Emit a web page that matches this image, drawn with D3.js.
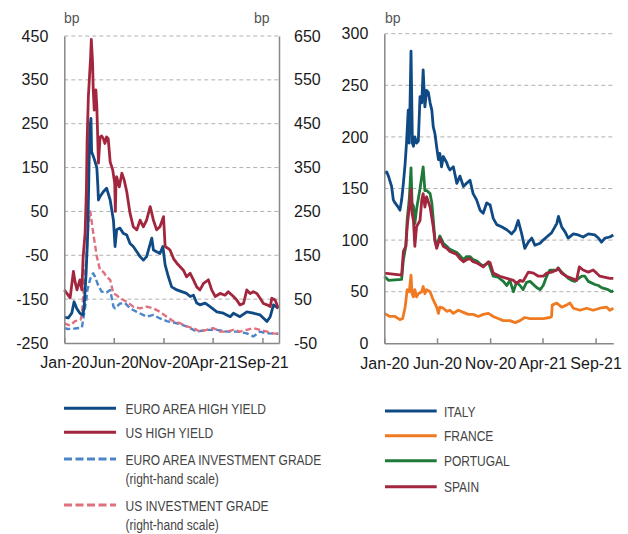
<!DOCTYPE html>
<html>
<head>
<meta charset="utf-8">
<script src="https://cdn.jsdelivr.net/npm/d3@7"></script>
<style>
  body { margin: 0; background: #fff; }
  svg text { font-family: "Liberation Sans", Arial, Helvetica, sans-serif; }
</style>
</head>
<body>
<div id="chart"></div>
<script>
// ---- data (bp) ----
var xTickDates = ["2020-01-01", "2020-06-01", "2020-11-01", "2021-04-01", "2021-09-01"];
var xTickLabels = ["Jan-20", "Jun-20", "Nov-20", "Apr-21", "Sep-21"];
var leftTicks = [-250, -150, -50, 50, 150, 250, 350, 450];
var rightTicks = [-50, 50, 150, 250, 350, 450, 550, 650];
var countryTicks = [0, 50, 100, 150, 200, 250, 300];

// left-hand scale
var euroHY = [["2020-01-01",-191],["2020-01-13",-193],["2020-01-24",-182],["2020-01-31",-156],["2020-02-08",-171],["2020-02-18",-182],["2020-02-27",-186],["2020-03-02",-167],["2020-03-08",-91],["2020-03-13",0],["2020-03-16",110],["2020-03-19",236],["2020-03-23",262],["2020-03-25",186],["2020-03-30",176],["2020-04-04",165],["2020-04-10",150],["2020-04-13",110],["2020-04-15",76],["2020-04-20",84],["2020-04-30",95],["2020-05-10",103],["2020-05-21",76],["2020-05-31",30],["2020-06-05",-30],["2020-06-10",8],["2020-06-20",12],["2020-06-30",0],["2020-07-11",-4],["2020-07-21",-23],["2020-07-31",-30],["2020-08-11",-42],["2020-08-21",-53],["2020-08-31",-61],["2020-09-10",-53],["2020-09-26",-11],["2020-10-01",-38],["2020-10-11",-42],["2020-10-21",-46],["2020-10-30",-30],["2020-11-06",-72],["2020-11-16",-99],["2020-11-26",-122],["2020-12-12",-129],["2020-12-27",-133],["2021-01-11",-137],["2021-01-22",-144],["2021-02-01",-141],["2021-02-11",-159],["2021-02-21",-163],["2021-03-09",-159],["2021-03-24",-167],["2021-04-14",-179],["2021-05-04",-182],["2021-05-25",-190],["2021-06-04",-182],["2021-06-24",-190],["2021-07-15",-179],["2021-08-04",-182],["2021-08-25",-186],["2021-09-15",-201],["2021-09-25",-190],["2021-10-05",-163],["2021-10-20",-171]];
var usHY = [["2020-01-01",-129],["2020-01-19",-147],["2020-01-29",-87],["2020-02-03",-110],["2020-02-09",-129],["2020-02-18",-106],["2020-02-24",-129],["2020-02-28",-53],["2020-03-05",1],["2020-03-09",100],["2020-03-11",206],["2020-03-15",312],["2020-03-22",403],["2020-03-24",442],["2020-03-28",388],["2020-03-30",327],["2020-04-02",281],["2020-04-07",327],["2020-04-10",289],["2020-04-15",160],["2020-04-20",220],["2020-04-25",222],["2020-04-30",216],["2020-05-05",205],["2020-05-10",220],["2020-05-15",216],["2020-05-21",163],["2020-05-29",144],["2020-06-04",114],["2020-06-06",50],["2020-06-08",120],["2020-06-10",129],["2020-06-18",106],["2020-06-26",137],["2020-07-03",122],["2020-07-11",95],["2020-07-21",46],["2020-07-31",15],["2020-08-11",8],["2020-08-21",30],["2020-08-31",15],["2020-09-10",30],["2020-09-21",61],["2020-10-01",30],["2020-10-11",8],["2020-10-21",15],["2020-11-01",38],["2020-11-06",-30],["2020-11-16",-35],["2020-11-21",-38],["2020-12-02",-58],["2020-12-12",-68],["2020-12-22",-76],["2021-01-01",-84],["2021-01-11",-99],["2021-01-22",-91],["2021-02-01",-106],["2021-02-11",-122],["2021-02-21",-129],["2021-03-04",-114],["2021-03-19",-106],["2021-03-29",-129],["2021-04-09",-144],["2021-04-24",-137],["2021-05-09",-141],["2021-05-19",-133],["2021-06-04",-144],["2021-06-14",-152],["2021-06-24",-163],["2021-07-05",-160],["2021-07-15",-129],["2021-07-25",-137],["2021-08-04",-133],["2021-08-15",-137],["2021-08-25",-148],["2021-09-04",-160],["2021-09-15",-163],["2021-09-25",-167],["2021-09-30",-148],["2021-10-10",-152],["2021-10-20",-171]];
// right-hand scale
var euroIG = [["2020-01-01",-16],["2020-01-12",-18],["2020-02-03",-17],["2020-02-24",-15],["2020-02-28",3],["2020-03-10",56],["2020-03-12",71],["2020-03-20",94],["2020-03-25",105],["2020-03-30",109],["2020-04-04",102],["2020-04-15",80],["2020-04-25",67],["2020-05-10",65],["2020-05-21",71],["2020-05-31",33],["2020-06-05",29],["2020-06-20",40],["2020-07-06",41],["2020-07-21",29],["2020-08-11",21],["2020-09-10",10],["2020-10-01",14],["2020-10-21",6],["2020-11-11",0],["2020-12-12",-5],["2021-01-11",-12],["2021-02-11",-24],["2021-03-14",-20],["2021-04-14",-20],["2021-05-15",-24],["2021-06-14",-24],["2021-07-15",-28],["2021-08-04",-35],["2021-08-25",-24],["2021-09-15",-28],["2021-10-20",-29]];
var usIG = [["2020-01-01",-5],["2020-01-19",-10],["2020-02-03",0],["2020-02-20",3],["2020-02-24",15],["2020-03-05",116],["2020-03-08",132],["2020-03-15",223],["2020-03-21",250],["2020-03-30",200],["2020-04-10",147],["2020-04-20",116],["2020-04-30",112],["2020-05-10",101],["2020-05-21",94],["2020-05-31",63],["2020-06-10",59],["2020-06-20",52],["2020-07-11",44],["2020-07-31",33],["2020-08-21",29],["2020-09-10",33],["2020-10-01",29],["2020-10-21",21],["2020-11-11",10],["2020-12-02",-1],["2020-12-22",-5],["2021-01-11",-12],["2021-02-01",-16],["2021-02-21",-24],["2021-03-14",-20],["2021-04-03",-16],["2021-04-24",-24],["2021-05-15",-24],["2021-06-04",-20],["2021-06-24",-24],["2021-07-15",-20],["2021-08-04",-16],["2021-08-25",-20],["2021-09-15",-24],["2021-10-05",-28],["2021-10-20",-29]];

// sovereign spreads (right panel)
var italy = [["2020-01-01",165],["2020-01-08",166],["2020-01-13",162],["2020-01-22",152],["2020-01-27",139],["2020-02-01",136],["2020-02-10",132],["2020-02-15",129],["2020-02-20",139],["2020-02-25",155],["2020-03-01",174],["2020-03-05",194],["2020-03-10",226],["2020-03-13",194],["2020-03-18",283],["2020-03-22",194],["2020-03-25",191],["2020-03-29",200],["2020-04-03",194],["2020-04-08",196],["2020-04-13",239],["2020-04-18",233],["2020-04-22",265],["2020-04-27",229],["2020-05-02",245],["2020-05-07",243],["2020-05-12",233],["2020-05-17",226],["2020-05-21",210],["2020-05-26",203],["2020-05-31",190],["2020-06-05",178],["2020-06-09",184],["2020-06-14",171],["2020-06-19",181],["2020-06-29",175],["2020-07-03",171],["2020-07-08",168],["2020-07-18",171],["2020-07-28",155],["2020-08-06",162],["2020-08-16",152],["2020-08-25",155],["2020-09-04",158],["2020-09-13",145],["2020-09-23",139],["2020-10-03",129],["2020-10-12",126],["2020-10-22",136],["2020-11-01",134],["2020-11-10",121],["2020-11-20",115],["2020-12-04",113],["2020-12-19",110],["2021-01-02",106],["2021-01-12",110],["2021-01-21",119],["2021-01-31",106],["2021-02-09",92],["2021-02-19",98],["2021-03-01",102],["2021-03-10",95],["2021-03-25",97],["2021-04-03",100],["2021-04-13",103],["2021-04-27",107],["2021-05-12",116],["2021-05-17",123],["2021-05-26",113],["2021-06-05",108],["2021-06-14",102],["2021-06-29",106],["2021-07-13",105],["2021-07-27",103],["2021-08-11",106],["2021-08-30",105],["2021-09-09",102],["2021-09-18",98],["2021-09-28",102],["2021-10-12",103],["2021-10-22",105]];
var france = [["2020-01-01",29],["2020-01-17",26],["2020-02-01",26],["2020-02-15",23],["2020-02-23",24],["2020-03-01",35],["2020-03-07",52],["2020-03-13",50],["2020-03-18",66],["2020-03-21",48],["2020-03-25",45],["2020-03-29",52],["2020-04-03",45],["2020-04-08",48],["2020-04-18",50],["2020-04-22",55],["2020-04-27",48],["2020-05-02",52],["2020-05-12",50],["2020-05-21",42],["2020-05-31",35],["2020-06-05",29],["2020-06-09",35],["2020-06-19",34],["2020-06-29",31],["2020-07-08",32],["2020-07-18",29],["2020-08-01",32],["2020-08-16",30],["2020-08-30",28],["2020-09-13",28],["2020-09-28",26],["2020-10-12",28],["2020-10-27",29],["2020-11-10",26],["2020-11-24",24],["2020-12-09",22],["2020-12-28",22],["2021-01-12",20],["2021-01-26",22],["2021-02-09",25],["2021-02-24",24],["2021-03-15",24],["2021-04-03",24],["2021-04-22",25],["2021-04-27",26],["2021-04-29",37],["2021-05-12",39],["2021-05-26",35],["2021-06-09",37],["2021-06-19",39],["2021-06-29",34],["2021-07-18",32],["2021-08-06",34],["2021-08-25",32],["2021-09-13",34],["2021-10-03",35],["2021-10-12",32],["2021-10-22",34]];
var portugal = [["2020-01-01",65],["2020-01-13",61],["2020-02-20",62],["2020-02-25",81],["2020-03-03",94],["2020-03-07",120],["2020-03-13",140],["2020-03-18",170],["2020-03-21",136],["2020-03-25",133],["2020-03-29",116],["2020-04-03",130],["2020-04-13",150],["2020-04-22",171],["2020-04-27",148],["2020-05-02",148],["2020-05-12",145],["2020-05-17",136],["2020-05-21",120],["2020-05-26",100],["2020-05-31",94],["2020-06-09",104],["2020-06-19",97],["2020-06-29",94],["2020-07-08",91],["2020-07-28",88],["2020-08-06",85],["2020-08-16",81],["2020-08-25",84],["2020-09-04",84],["2020-09-13",81],["2020-09-23",80],["2020-10-03",77],["2020-10-12",75],["2020-10-27",78],["2020-11-01",74],["2020-11-10",65],["2020-11-24",64],["2020-12-09",60],["2020-12-19",56],["2020-12-28",61],["2021-01-07",50],["2021-01-16",59],["2021-01-26",56],["2021-02-04",52],["2021-02-14",59],["2021-02-24",60],["2021-03-15",54],["2021-03-25",52],["2021-04-03",56],["2021-04-13",65],["2021-04-22",71],["2021-05-12",71],["2021-05-16",73],["2021-05-26",69],["2021-06-05",66],["2021-06-14",63],["2021-06-24",61],["2021-07-03",60],["2021-07-23",65],["2021-08-01",65],["2021-08-11",60],["2021-08-30",57],["2021-09-09",56],["2021-09-18",54],["2021-10-07",52],["2021-10-17",50],["2021-10-22",51]];
var spain = [["2020-01-01",68],["2020-02-20",66],["2020-02-25",89],["2020-03-03",94],["2020-03-07",113],["2020-03-13",132],["2020-03-18",149],["2020-03-21",126],["2020-03-25",119],["2020-03-29",94],["2020-04-03",113],["2020-04-13",119],["2020-04-18",139],["2020-04-22",145],["2020-04-27",132],["2020-05-02",142],["2020-05-12",132],["2020-05-21",113],["2020-05-26",99],["2020-05-31",92],["2020-06-09",102],["2020-06-19",94],["2020-06-29",92],["2020-07-08",89],["2020-07-28",86],["2020-08-06",82],["2020-08-16",79],["2020-08-25",81],["2020-09-04",82],["2020-09-13",79],["2020-09-23",78],["2020-10-03",76],["2020-10-12",74],["2020-10-27",79],["2020-11-01",78],["2020-11-10",68],["2020-11-29",65],["2020-12-19",63],["2021-01-07",61],["2021-01-16",58],["2021-01-26",61],["2021-02-04",60],["2021-02-19",69],["2021-03-06",68],["2021-03-20",65],["2021-04-03",65],["2021-04-13",68],["2021-04-27",69],["2021-05-12",71],["2021-05-16",73],["2021-05-26",68],["2021-06-09",65],["2021-06-24",63],["2021-07-08",61],["2021-07-16",74],["2021-07-27",71],["2021-08-11",69],["2021-08-25",71],["2021-09-04",68],["2021-09-13",65],["2021-10-12",63],["2021-10-22",63]];

var leftLegend = [["EURO AREA HIGH YIELD"], ["US HIGH YIELD"], ["EURO AREA INVESTMENT GRADE", "(right-hand scale)"], ["US INVESTMENT GRADE", "(right-hand scale)"]];
var rightLegend = ["ITALY", "FRANCE", "PORTUGAL", "SPAIN"];

// ---- styling ----
var navy = "#0f4a84", crimson = "#a3263f", lightBlue = "#4a86c8", pink = "#e0707e";
var orange = "#f07a22", green = "#1f7a3a";
var gridColor = "#b0b0b0", axisColor = "#888";

var parse = d3.timeParse("%Y-%m-%d");
var xDomain = [parse("2020-01-01"), parse("2021-10-22")];
var tickDates = xTickDates.map(parse);
var plainNum = function (d) { return String(d); };   // keep ASCII hyphen for negatives

var svg = d3.select("#chart").append("svg").attr("width", 628).attr("height", 534);

// helper: dashed gridlines
function grid(y, ticks, x0, x1) {
    svg.append("g").selectAll("line")
        .data(ticks.slice(1))
        .enter()
        .append("line")
        .attr("x1", x0).attr("x2", x1)
        .attr("y1", function (d) { return y(d); })
        .attr("y2", function (d) { return y(d); })
        .attr("stroke", gridColor)
        .attr("stroke-width", 1)
        .attr("stroke-dasharray", "4,3");
}

function styleAxis(g) {
    g.select(".domain").attr("stroke", axisColor).attr("stroke-width", 1.5);
    g.selectAll(".tick line").attr("stroke", axisColor).attr("stroke-width", 1.5);
    g.selectAll("text").attr("fill", "#1a1a1a").style("font-size", "16px");
}

function drawLine(series, x, y, color, dashed) {
    var line = d3.line()
        .x(function (d) { return x(parse(d[0])); })
        .y(function (d) { return y(d[1]); });
    svg.append("path")
        .datum(series)
        .attr("fill", "none")
        .attr("stroke", color)
        .attr("stroke-width", dashed ? 2.4 : 2.8)
        .attr("stroke-linejoin", "round")
        .attr("stroke-dasharray", dashed ? "6,3" : null)
        .attr("d", line);
}

// ---- left panel: corporate spreads ----
var xL = d3.scaleTime().domain(xDomain).range([64.3, 279]);
var yL = d3.scaleLinear().domain([-250, 450]).range([343, 36]);
var yR = d3.scaleLinear().domain([-50, 650]).range([343, 36]);

grid(yL, leftTicks, 64.3, 279);

drawLine(euroIG, xL, yR, lightBlue, true);
drawLine(usIG, xL, yR, pink, true);
drawLine(euroHY, xL, yL, navy, false);
drawLine(usHY, xL, yL, crimson, false);

svg.append("g").attr("transform", "translate(64.3,0)")
    .call(d3.axisLeft(yL).tickValues(leftTicks).tickFormat(plainNum).tickSize(0).tickPadding(16))
    .call(styleAxis);
svg.append("g").attr("transform", "translate(279,0)")
    .call(d3.axisRight(yR).tickValues(rightTicks).tickFormat(plainNum).tickSize(0).tickPadding(15))
    .call(styleAxis);
svg.append("g").attr("transform", "translate(0,343)")
    .call(d3.axisBottom(xL).tickValues(tickDates)
        .tickFormat(function (d, i) { return xTickLabels[i]; })
        .tickSizeInner(-5).tickSizeOuter(0).tickPadding(14))
    .call(styleAxis);

// ---- right panel: sovereign spreads ----
var xC = d3.scaleTime().domain(xDomain).range([384.3, 613.3]);
var yC = d3.scaleLinear().domain([0, 300]).range([343.3, 33.7]);

grid(yC, countryTicks, 384.3, 613.3);

drawLine(italy, xC, yC, navy, false);
drawLine(france, xC, yC, orange, false);
drawLine(portugal, xC, yC, green, false);
drawLine(spain, xC, yC, crimson, false);

svg.append("g").attr("transform", "translate(384.3,0)")
    .call(d3.axisLeft(yC).tickValues(countryTicks).tickFormat(plainNum).tickSize(0).tickPadding(16))
    .call(styleAxis);
svg.append("g").attr("transform", "translate(0,343.3)")
    .call(d3.axisBottom(xC).tickValues(tickDates)
        .tickFormat(function (d, i) { return xTickLabels[i]; })
        .tickSizeInner(-5).tickSizeOuter(0).tickPadding(14))
    .call(styleAxis);

// unit labels
[[64, "bp"], [254, "bp"], [385, "bp"]].forEach(function (u) {
    svg.append("text").attr("x", u[0]).attr("y", 23)
        .attr("fill", "#555").style("font-size", "14px").text(u[1]);
});

// ---- legends (condensed look via horizontal squeeze) ----
function legendText(g, x, y, t) {
    g.append("text")
        .attr("transform", "translate(" + x + "," + y + ") scale(0.8,1)")
        .attr("fill", "#444").style("font-size", "15px").text(t);
}

var leftLegendY = [408.3, 432.3, 459, 505];
var leftColors = [navy, crimson, lightBlue, pink];
var lg = svg.append("g").attr("class", "legend");
leftLegend.forEach(function (lines, i) {
    var y = leftLegendY[i];
    lg.append("line").attr("x1", 64).attr("x2", 116).attr("y1", y).attr("y2", y)
        .attr("stroke", leftColors[i]).attr("stroke-width", 3)
        .attr("stroke-dasharray", i > 1 ? "8,3.5" : null);
    lines.forEach(function (t, j) {
        legendText(lg, 125.5, y + 5.5 + j * 19.5, t);
    });
});

var rightLegendY = [411, 435.7, 460.7, 486.7];
var rightColors = [navy, orange, green, crimson];
rightLegend.forEach(function (t, i) {
    var y = rightLegendY[i];
    lg.append("line").attr("x1", 385).attr("x2", 436.7).attr("y1", y).attr("y2", y)
        .attr("stroke", rightColors[i]).attr("stroke-width", 3);
    legendText(lg, 444, y + 5.5, t);
});
</script>
</body>
</html>
